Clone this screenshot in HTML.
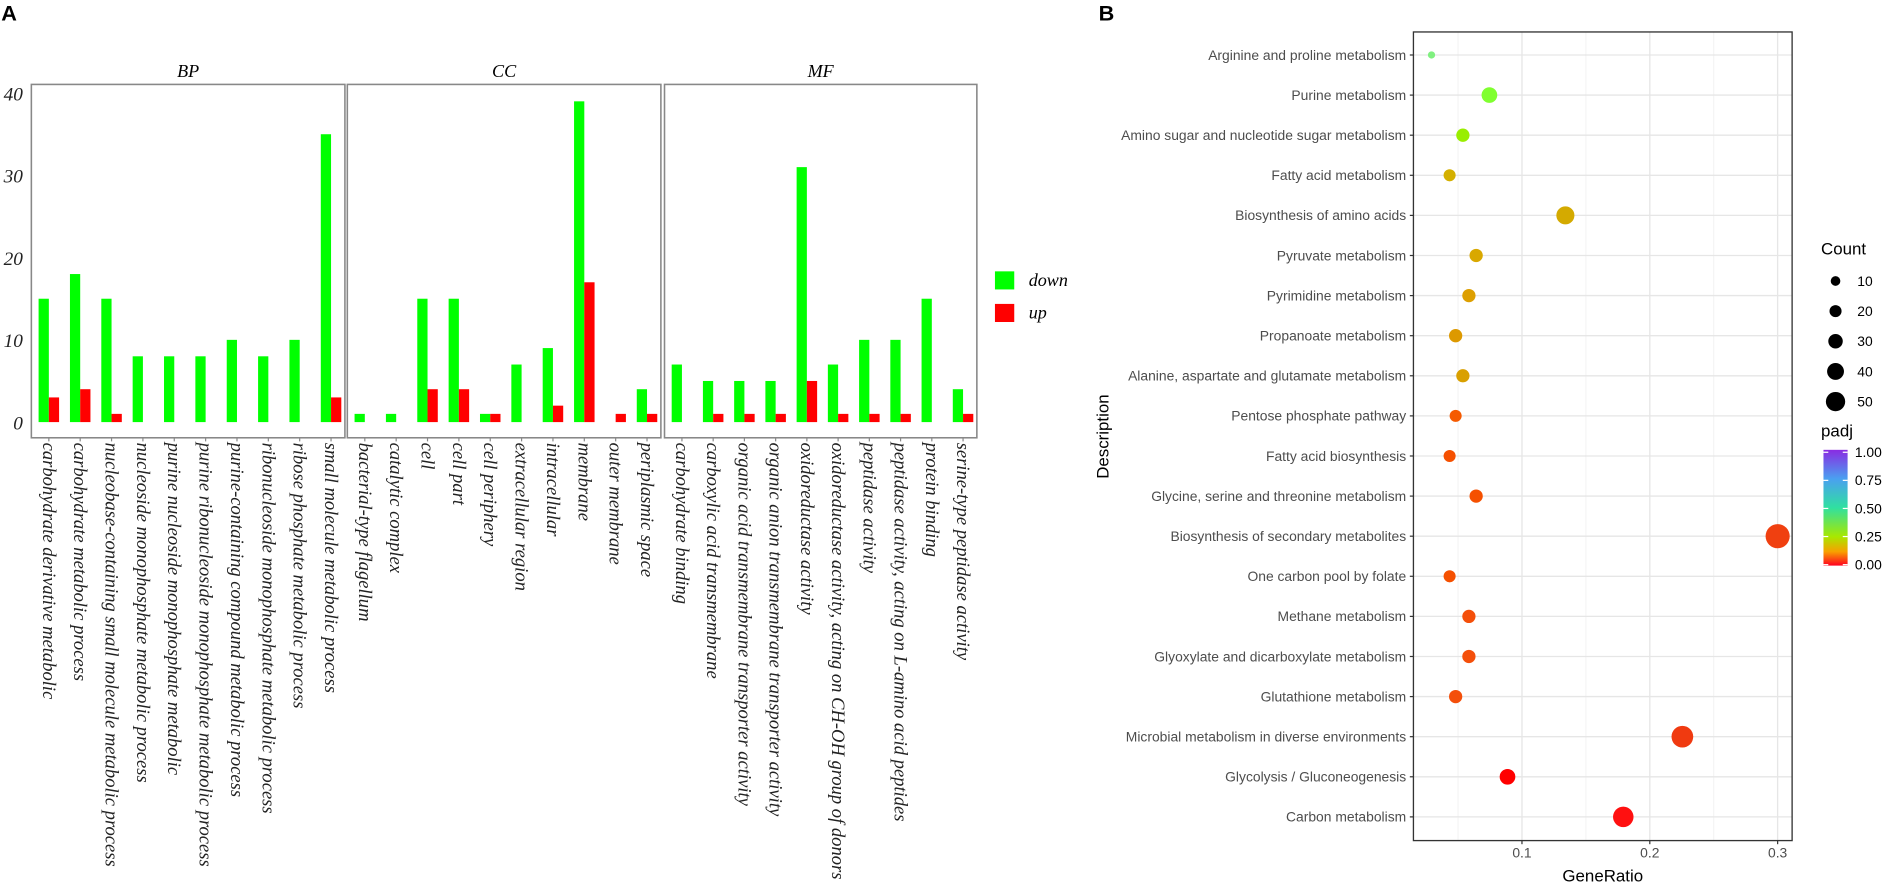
<!DOCTYPE html>
<html><head><meta charset="utf-8"><style>
html,body{margin:0;padding:0;background:#fff;}
svg{display:block;}
.ser{font-family:"Liberation Serif",serif;font-style:italic;}
.sans{font-family:"Liberation Sans",sans-serif;}
</style></head><body>
<svg width="1890" height="895" xmlns="http://www.w3.org/2000/svg"><g id="s" transform="scale(1.206)"></g></svg>
<script>
const s=document.getElementById('s');let h='';
h+='<text x="1" y="17" class="sans" font-weight="bold" font-size="18">A</text>';
h+='<text x="911" y="17" class="sans" font-weight="bold" font-size="18">B</text>';
// Panel A
const y0=350,k=6.82,TOP=70,BOT=363;
const panels=[
{n:'BP',x0:26,x1:286,d:[15,18,15,8,8,8,10,8,10,35],u:[3,4,1,0,0,0,0,0,0,3],l:['carbohydrate derivative metabolic','carbohydrate metabolic process','nucleobase-containing small molecule metabolic process','nucleoside monophosphate metabolic process','purine nucleoside monophosphate metabolic','purine ribonucleoside monophosphate metabolic process','purine-containing compound metabolic process','ribonucleoside monophosphate metabolic process','ribose phosphate metabolic process','small molecule metabolic process']},
{n:'CC',x0:288,x1:548,d:[1,1,15,15,1,7,9,39,0,4],u:[0,0,4,4,1,0,2,17,1,1],l:['bacterial-type flagellum','catalytic complex','cell','cell part','cell periphery','extracellular region','intracellular','membrane','outer membrane','periplasmic space']},
{n:'MF',x0:551,x1:810,d:[7,5,5,5,31,7,10,10,15,4],u:[0,1,1,1,5,1,1,1,0,1],l:['carbohydrate binding','carboxylic acid transmembrane','organic acid transmembrane transporter activity','organic anion transmembrane transporter activity','oxidoreductase activity','oxidoreductase activity, acting on CH-OH group of donors','peptidase activity','peptidase activity, acting on L-amino acid peptides','protein binding','serine-type peptidase activity']}];
panels.forEach(p=>{
 h+=`<rect x="${p.x0}" y="${TOP}" width="${p.x1-p.x0}" height="${BOT-TOP}" fill="none" stroke="#888" stroke-width="1.3"/>`;
 h+=`<text x="${(p.x0+p.x1)/2}" y="64" class="ser" font-size="15" text-anchor="middle">${p.n}</text>`;
 const sp=(p.x1-p.x0)/10;
 for(let i=0;i<10;i++){
  const c=p.x0+sp*(i+0.5)+1.5;
  if(p.d[i]>0)h+=`<rect x="${c-8.5}" y="${y0-p.d[i]*k}" width="8.5" height="${p.d[i]*k}" fill="#00ff00"/>`;
  if(p.u[i]>0)h+=`<rect x="${c}" y="${y0-p.u[i]*k}" width="8.5" height="${p.u[i]*k}" fill="#ff0000"/>`;
  h+=`<line x1="${c}" y1="${BOT}" x2="${c}" y2="${BOT+3}" stroke="#888"/>`;
  h+=`<text transform="translate(${c-5},367) rotate(90)" class="ser" font-size="15.4" fill="#222">${p.l[i]}</text>`;
 }
});
[0,10,20,30,40].forEach(v=>{h+=`<text x="19" y="${y0-v*k+6}" class="ser" font-size="16" text-anchor="end" fill="#222">${v}</text>`;});
h+='<rect x="825" y="225" width="16" height="15" fill="#00ff00"/><text x="853" y="237" class="ser" font-size="15">down</text>';
h+='<rect x="825" y="252" width="16" height="15" fill="#ff0000"/><text x="853" y="264" class="ser" font-size="15">up</text>';
// Panel B
const L=1172,R=1486,T=26.5,B=697;
const X=v=>1156+v*1060;
h+=`<rect x="${L}" y="${T}" width="${R-L}" height="${B-T}" fill="#fff"/>`;
[0.05,0.15,0.25].forEach(v=>h+=`<line x1="${X(v)}" y1="${T}" x2="${X(v)}" y2="${B}" stroke="#f2f2f2" stroke-width="0.8"/>`);
[0.1,0.2,0.3].forEach(v=>{h+=`<line x1="${X(v)}" y1="${T}" x2="${X(v)}" y2="${B}" stroke="#e6e6e6" stroke-width="1.1"/>`;
 h+=`<line x1="${X(v)}" y1="${B}" x2="${X(v)}" y2="${B+3}" stroke="#333"/><text x="${X(v)}" y="${B+14}" class="sans" font-size="11.5" fill="#4d4d4d" text-anchor="middle">${v}</text>`;});
const rows=[['Arginine and proline metabolism',1187,3,'#80f080'],['Purine metabolism',1235,6.5,'#80ff30'],['Amino sugar and nucleotide sugar metabolism',1213,5.5,'#99ee00'],['Fatty acid metabolism',1202,5,'#d4b000'],['Biosynthesis of amino acids',1298,7.5,'#d4aa00'],['Pyruvate metabolism',1224,5.5,'#d9a800'],['Pyrimidine metabolism',1218,5.5,'#dd9f00'],['Propanoate metabolism',1207,5.5,'#dd9900'],['Alanine, aspartate and glutamate metabolism',1213,5.5,'#d9a000'],['Pentose phosphate pathway',1207,5,'#f55a00'],['Fatty acid biosynthesis',1202,5,'#f55000'],['Glycine, serine and threonine metabolism',1224,5.5,'#f55000'],['Biosynthesis of secondary metabolites',1474,10,'#f04010'],['One carbon pool by folate',1202,5,'#f55000'],['Methane metabolism',1218,5.5,'#f44f0a'],['Glyoxylate and dicarboxylate metabolism',1218,5.5,'#f44f0a'],['Glutathione metabolism',1207,5.5,'#f44f0a'],['Microbial metabolism in diverse environments',1395,9,'#f03a10'],['Glycolysis / Gluconeogenesis',1250,6.5,'#ff0000'],['Carbon metabolism',1346,8.5,'#ff1010']];
rows.forEach((r,i)=>{const y=45.6+i*33.25;
 h+=`<line x1="${L}" y1="${y}" x2="${R}" y2="${y}" stroke="#e6e6e6" stroke-width="1.1"/>`;
 h+=`<line x1="${L-3}" y1="${y}" x2="${L}" y2="${y}" stroke="#333"/>`;
 h+=`<text x="${L-6}" y="${y+4}" class="sans" font-size="11.5" fill="#4d4d4d" text-anchor="end">${r[0]}</text>`;});
rows.forEach((r,i)=>{const y=45.6+i*33.25;h+=`<circle cx="${r[1]}" cy="${y}" r="${r[2]}" fill="${r[3]}"/>`;});
h+=`<rect x="${L}" y="${T}" width="${R-L}" height="${B-T}" fill="none" stroke="#333" stroke-width="1.1"/>`;
h+=`<text transform="translate(919,362) rotate(-90)" class="sans" font-size="14" text-anchor="middle">Description</text>`;
h+=`<text x="1329" y="731" class="sans" font-size="14" text-anchor="middle">GeneRatio</text>`;
// legends
h+='<text x="1510" y="211" class="sans" font-size="14">Count</text>';
[[10,4],[20,5],[30,6],[40,7],[50,8]].forEach((c,i)=>{const y=233+i*25;h+=`<circle cx="1522" cy="${y}" r="${c[1]}" fill="#000"/><text x="1540" y="${y+4}" class="sans" font-size="11.5">${c[0]}</text>`;});
h+='<text x="1510" y="362" class="sans" font-size="14">padj</text>';
h+='<defs><linearGradient id="g" x1="0" y1="0" x2="0" y2="1"><stop offset="0" stop-color="#8a2be2"/><stop offset="0.25" stop-color="#4aa0f0"/><stop offset="0.5" stop-color="#30e0a0"/><stop offset="0.75" stop-color="#a8e800"/><stop offset="0.88" stop-color="#f8a000"/><stop offset="1" stop-color="#ff0020"/></linearGradient></defs>';
h+='<rect x="1512" y="373" width="20" height="96" fill="url(#g)"/>';
['1.00','0.75','0.50','0.25','0.00'].forEach((t,i)=>{const y=375+i*23.3;h+=`<line x1="1512" y1="${y}" x2="1516" y2="${y}" stroke="#fff"/><line x1="1528" y1="${y}" x2="1532" y2="${y}" stroke="#fff"/><text x="1538" y="${y+4}" class="sans" font-size="11.5">${t}</text>`;});
s.innerHTML=h;
</script>
</body></html>
